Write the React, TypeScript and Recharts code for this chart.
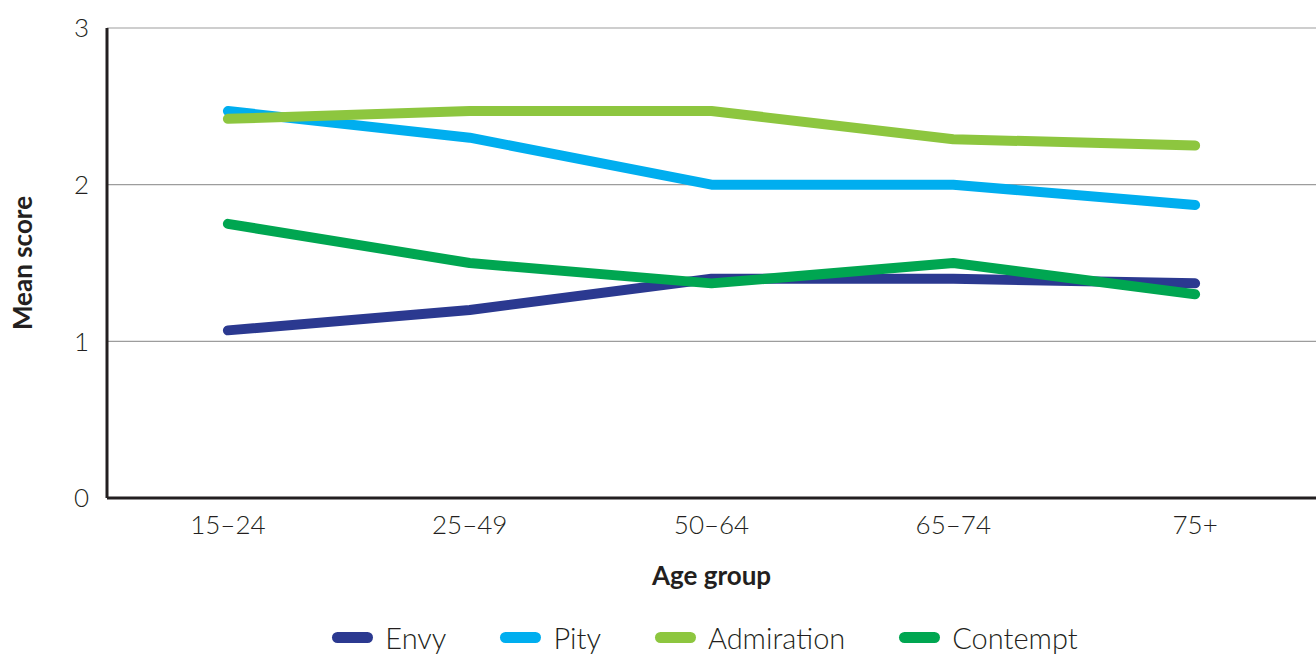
import { LineChart, Line, XAxis, YAxis, CartesianGrid } from "recharts";

const ageGroups = ["15–24", "25–49", "50–64", "65–74", "75+"];
const envy = [1.07, 1.2, 1.4, 1.4, 1.37];
const pity = [2.47, 2.3, 2.0, 2.0, 1.87];
const admiration = [2.42, 2.47, 2.47, 2.29, 2.25];
const contempt = [1.75, 1.5, 1.37, 1.5, 1.3];
const yTicks = [0, 1, 2, 3];

const series = [
  { key: "envy", name: "Envy", color: "#2b3990" },
  { key: "pity", name: "Pity", color: "#00aeef" },
  { key: "admiration", name: "Admiration", color: "#8dc63f" },
  { key: "contempt", name: "Contempt", color: "#00a651" },
];

const data = ageGroups.map((g, i) => ({
  group: g,
  envy: envy[i],
  pity: pity[i],
  admiration: admiration[i],
  contempt: contempt[i],
}));

const FONT = "Lato, 'Open Sans', sans-serif";
const INK = "#231f20";

function ChartLegend() {
  return (
    <div
      style={{
        position: "absolute",
        top: 620,
        left: 0,
        width: 1410,
        display: "flex",
        justifyContent: "center",
        gap: 54,
        fontFamily: FONT,
        fontWeight: 300,
        fontSize: 29,
        color: INK,
      }}
    >
      {series.map((s) => (
        <div key={s.key} style={{ display: "flex", alignItems: "center", gap: 12 }}>
          <div style={{ width: 41, height: 11, borderRadius: 6, background: s.color }} />
          <span>{s.name}</span>
        </div>
      ))}
    </div>
  );
}

export default function App() {
  return (
    <div style={{ position: "absolute", left: 0, top: 0, width: 1316, height: 656, background: "#fff" }}>
      <LineChart
        width={1316}
        height={656}
        data={data}
        margin={{ top: 28, right: 0, bottom: 58, left: 0 }}
      >
        <CartesianGrid horizontal vertical={false} stroke="#9d9d9d" strokeWidth={1.2} />
        <XAxis
          dataKey="group"
          scale="band"
          height={100}
          axisLine={{ stroke: INK, strokeWidth: 3 }}
          tickLine={false}
          tickMargin={12}
          tick={{ fill: INK, fontSize: 26, fontFamily: FONT, fontWeight: 300 }}
          label={{
            value: "Age group",
            position: "insideBottom",
            offset: 13,
            fill: INK,
            fontSize: 26,
            fontWeight: 700,
            fontFamily: FONT,
          }}
        />
        <YAxis
          width={107}
          domain={[0, 3]}
          ticks={yTicks}
          axisLine={{ stroke: INK, strokeWidth: 3 }}
          tickLine={false}
          tickMargin={12}
          tick={{ fill: INK, fontSize: 26, fontFamily: FONT, fontWeight: 300 }}
          label={{
            value: "Mean score",
            angle: -90,
            position: "insideLeft",
            offset: 23,
            style: { textAnchor: "middle" },
            fill: INK,
            fontSize: 26,
            fontWeight: 700,
            fontFamily: FONT,
          }}
        />
        {series.map((s) => (
          <Line
            key={s.key}
            type="linear"
            dataKey={s.key}
            name={s.name}
            stroke={s.color}
            strokeWidth={10}
            strokeLinecap="round"
            strokeLinejoin="round"
            dot={false}
            activeDot={false}
            isAnimationActive={false}
          />
        ))}
      </LineChart>
      <ChartLegend />
    </div>
  );
}
